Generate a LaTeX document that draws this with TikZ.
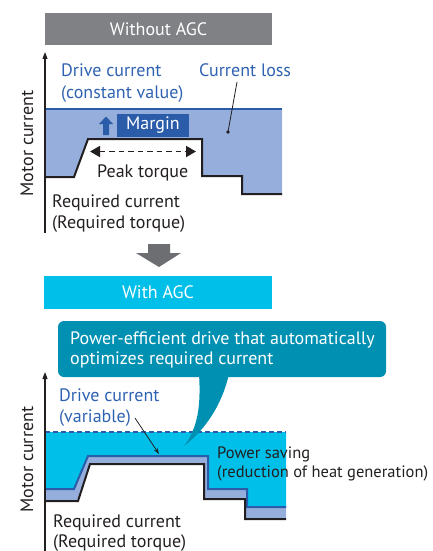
\documentclass[tikz,border=0pt]{standalone}
\usepackage{fontspec}
\setmainfont{PT Sans}
\usetikzlibrary{arrows.meta}
\definecolor{hdrgray}{HTML}{808185}
\definecolor{arrgray}{HTML}{6D6E71}
\definecolor{lightfill}{HTML}{95AEDB}
\definecolor{darkblue}{HTML}{2B5CAA}
\definecolor{textblue}{HTML}{2F62B2}
\definecolor{cyanfill}{HTML}{00BFE8}
\definecolor{callout}{HTML}{0090B2}
\definecolor{ink}{HTML}{231F20}
\tikzset{
  txt/.style={font=\fontsize{18}{21}\selectfont, inner sep=0pt, text=ink},
  smalltxt/.style={txt, font=\fontsize{16.5}{21}\selectfont},
  bluetxt/.style={txt, text=textblue},
  whitetxt/.style={txt, text=white},
  hdrbox/.style={inner sep=0pt, minimum width=227pt, minimum height=32pt},
  axisline/.style={draw=ink, line width=1.2pt, -{Triangle[length=7pt,width=5pt]}},
  reqline/.style={draw=ink, line width=2pt, line join=miter},
  driveline/.style={draw=darkblue, line width=2pt, line join=miter},
  pointer/.style={draw=ink, line width=0.8pt},
}
\begin{document}
\begin{tikzpicture}[x=1pt,y=-1pt]
\useasboundingbox (0,0) rectangle (432,551);
% ---------- top header
\node[hdrbox, fill=hdrgray] (h1) at (158.5,29) {};
\node[whitetxt] (h1t) at (h1.center) {Without AGC};
% ---------- top chart
\fill[lightfill] (45,109) -- (282,109) -- (282,194) -- (242,194) -- (242,176) -- (202,176) -- (202,139) -- (88,139) -- (74,177) -- (45,177) -- cycle;
\draw[driveline] (45,109) -- (282,109);
\draw[reqline] (45,177) -- (74,177) -- (88,139) -- (202,139) -- (202,176) -- (242,176) -- (242,194) -- (282,194);
\coordinate (ax1b) at (45,233);
\coordinate (ax1t) at (45,52);
\draw[axisline] (ax1b) -- (ax1t);
\node[txt, rotate=90, anchor=base] (mc1) at (33,143.5) {Motor current};
\node[bluetxt, anchor=base west] (dc1) at (61,77) {Drive current};
\node[bluetxt, anchor=base west] (cv1) at (61,98) {(constant value)};
\node[bluetxt, anchor=base west] (cl1) at (199,77) {Current loss};
\coordinate (cl1p) at (237,82);
\coordinate (cl1d) at (228,132);
\draw[pointer] (cl1p) -- (cl1d);
\fill[ink] (cl1d) circle (1.8pt);
% margin
\fill[darkblue] (103,135) -- (109,135) -- (109,124) -- (113,124) -- (106,116.5) -- (99,124) -- (103,124) -- cycle;
\node[inner sep=0pt, fill=darkblue, minimum width=72pt, minimum height=23pt] (mb) at (153,125.5) {};
\node[whitetxt] (mbt) at (mb.center) {Margin};
% peak torque
\coordinate (pkl) at (90,151.5);
\coordinate (pkr) at (196,151.5);
\draw[ink, line width=1.8pt, dash pattern=on 5.5pt off 4pt, {Triangle[length=10pt,width=11pt]}-{Triangle[length=10pt,width=11pt]}] (pkl) -- (pkr);
\node[txt, anchor=base west] (pt1) at (97,177) {Peak torque};
\node[txt, anchor=base west] (rc1) at (52,207) {Required current};
\node[txt, anchor=base west] (rt1) at (52,228) {(Required torque)};
% ---------- down arrow
\fill[arrgray] (148,244) -- (170,244) -- (170,253) -- (181,253) -- (159,267) -- (136,253) -- (148,253) -- cycle;
% ---------- second header
\node[hdrbox, fill=cyanfill, minimum width=228pt, minimum height=33pt] (h2) at (158,292.5) {};
\node[whitetxt] (h2t) at (h2.center) {With AGC};
% ---------- bottom chart
\fill[cyanfill] (45,432) -- (286,432) -- (286,507) -- (247,507) -- (247,489) -- (208,489) -- (208,456) -- (88,456) -- (74,489) -- (45,489) -- cycle;
\fill[lightfill] (45,489) -- (74,489) -- (88,456) -- (208,456) -- (208,489) -- (247,489) -- (247,507) -- (286,507)
   -- (286,519) -- (245,519) -- (245,499) -- (204,499) -- (204,464) -- (90,464) -- (78,501) -- (45,501) -- cycle;
\draw[darkblue, line width=1.5pt, dash pattern=on 5pt off 3pt] (45,432) -- (286,432);
\draw[driveline] (45,489) -- (74,489) -- (88,456) -- (208,456) -- (208,489) -- (247,489) -- (247,507) -- (286,507);
\draw[reqline] (45,501) -- (78,501) -- (90,464) -- (204,464) -- (204,499) -- (245,499) -- (245,519) -- (286,519);
\coordinate (ax2b) at (45,551);
\coordinate (ax2t) at (45,372);
\draw[axisline] (ax2b) -- (ax2t);
\node[txt, rotate=90, anchor=base] (mc2) at (33,459.5) {Motor current};
\node[bluetxt, anchor=base west] (dc2) at (59,401) {Drive current};
\node[bluetxt, anchor=base west] (va2) at (59,422) {(variable)};
\coordinate (va2p) at (135,418);
\coordinate (va2e) at (159,454);
\draw[pointer, -{Stealth[length=6pt,width=4pt]}] (va2p) -- (va2e);
\node[smalltxt, anchor=base west] (ps2) at (217,458) {Power saving};
\node[smalltxt, anchor=base west] (rh2) at (217,477) {(reduction of heat generation)};
\node[txt, anchor=base west] (rc2) at (53,527) {Required current};
\node[txt, anchor=base west] (rt2) at (53,547) {(Required torque)};
% ---------- callout
\fill[callout] (199,374) .. controls (201,405) and (198,428) .. (184,446) .. controls (205,430) and (222,405) .. (229,374) -- cycle;
\fill[callout, rounded corners=6pt] (58,321) rectangle (386,377);
\node[whitetxt, anchor=base west] (co1) at (70,344) {Power-efficient drive that automatically};
\node[whitetxt, anchor=base west] (co2) at (70,364) {optimizes required current};
\end{tikzpicture}
\end{document}
